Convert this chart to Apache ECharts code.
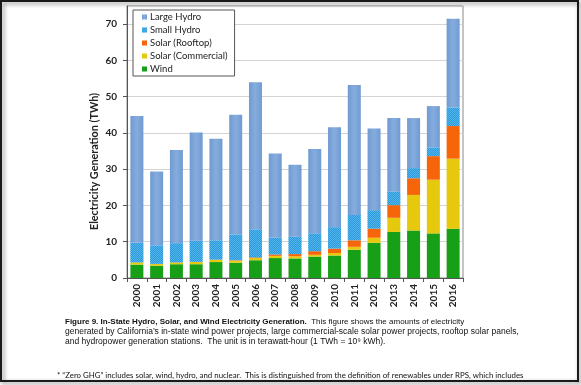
<!DOCTYPE html>
<html><head><meta charset="utf-8">
<script src="https://cdn.jsdelivr.net/npm/echarts@6/dist/echarts.min.js"></script>
<style>html,body{margin:0;padding:0;background:#fff}#c{width:581px;height:385px}</style>
</head><body><div id="c"></div>
<script>
const years = ['2000','2001','2002','2003','2004','2005','2006','2007','2008','2009','2010','2011','2012','2013','2014','2015','2016'];
const wind = [3.7,3.4,3.8,3.8,4.4,4.2,4.9,5.5,5.4,5.9,6.2,7.8,9.7,12.7,13.1,12.3,13.6];
const solarCommercial = [0.6,0.5,0.5,0.6,0.6,0.6,0.6,0.6,0.6,0.5,0.7,0.8,1.4,3.9,9.8,14.8,19.3];
const solarRooftop = [0,0,0,0.05,0.1,0.1,0.2,0.4,0.6,1.0,1.2,1.8,2.5,3.5,4.6,6.5,9.0];
const smallHydro = [5.4,5.1,5.3,5.85,5.3,7.1,7.7,4.6,4.8,4.9,5.9,7.0,5.1,3.7,2.8,2.4,5.1];
const largeHydro = [35.0,20.4,25.7,29.8,28.0,33.0,40.6,23.2,19.8,23.3,27.6,35.8,22.5,20.3,13.8,11.4,24.5];
const yTicks = [0,10,20,30,40,50,60,70];
const legendOrder = ['Large Hydro','Small Hydro','Solar (Rooftop)','Solar (Commercial)','Wind'];

const chart = echarts.init(document.getElementById('c'), null, {renderer:'canvas'});
const BW = 13;
function bar(name, data, itemStyle){
  return {name, type:'bar', stack:'t', data, barWidth:BW, itemStyle, emphasis:{disabled:true}};
}
const option = {
  animation:false,
  grid:{left:127, right:118, top:6, bottom:107, show:true, borderColor:'#8a8a8a', borderWidth:1, backgroundColor:'transparent'},
  legend:{
    data:legendOrder, orient:'vertical', left:133, top:10,
    itemWidth:5, itemHeight:5, itemGap:3, icon:'rect',
    padding:[2,7,2,9], borderColor:'#555', borderWidth:1, backgroundColor:'#fff',
    textStyle:{fontFamily:'Lato', fontSize:9.5, color:'#222', padding:[0,0,0,-2]}
  },
  xAxis:{
    type:'category', data:years,
    axisLine:{lineStyle:{color:'#555', width:1}},
    axisTick:{show:true, alignWithLabel:false, length:4, lineStyle:{color:'#555'}},
    axisLabel:{rotate:90, fontFamily:'Lato', fontWeight:'bold', fontSize:10, color:'#222', margin:6}
  },
  yAxis:{
    type:'value', min:0, max:75, interval:10,
    axisLine:{show:true, lineStyle:{color:'#555'}},
    axisTick:{show:true, length:4, lineStyle:{color:'#555'}},
    axisLabel:{showMaxLabel:false, fontFamily:'Lato', fontWeight:'bold', fontSize:10, color:'#222', margin:10},
    splitLine:{lineStyle:{color:'#d4d4d4'}}
  },
  series:[
    bar('Wind', wind, {color:'#17a017'}),
    bar('Solar (Commercial)', solarCommercial, {color:'#e6c80c'}),
    bar('Solar (Rooftop)', solarRooftop, {color:'#f7650a'}),
    bar('Small Hydro', smallHydro, {color:'#4ab8e8', decal:{symbol:'rect', symbolSize:1, color:'rgba(45,135,215,0.7)', dashArrayX:[[1,1],[0,1,1,0]], dashArrayY:[1,0]}}),
    bar('Large Hydro', largeHydro, {color:{type:'linear', x:0, y:0, x2:1, y2:0, colorStops:[{offset:0,color:'#6f9bd2'},{offset:0.5,color:'#86acdd'},{offset:1,color:'#6f9bd2'}]}})
  ],
  graphic:[
    {type:'text', x:94.5, y:161.5, rotation:Math.PI/2,
     style:{text:'Electricity Generation (TWh)', fontFamily:'Lato', fontWeight:'bold', fontSize:10.8, fill:'#222', align:'center', verticalAlign:'middle'}},
    {type:'text', x:65, y:317,
     style:{text:'{b|Figure 9. In-State Hydro, Solar, and Wind Electricity Generation.}{n1|  This figure shows the amounts of electricity}\n{n|generated by California\u2019s in-state wind power projects, large commercial-scale solar power projects, rooftop solar panels,}\n{n|and hydropower generation stations.  The unit is in terawatt-hour (1 TWh = 10\u2079 kWh).}',
       rich:{b:{fontFamily:'Liberation Sans', fontWeight:'bold', fontSize:8, fill:'#111', lineHeight:10},
             n1:{fontFamily:'Liberation Sans', fontSize:8, fill:'#111', lineHeight:10},
             n:{fontFamily:'Liberation Sans', fontSize:8.5, fill:'#111', lineHeight:10}},
       fontFamily:'Liberation Sans', fontSize:8.5, lineHeight:10, fill:'#111'}},
    {type:'text', x:57, y:371.5,
     style:{text:'* \u201cZero GHG\u201d includes solar, wind, hydro, and nuclear.  This is distinguished from the definition of renewables under RPS, which includes',
       fontFamily:'Lato', fontSize:7.85, fill:'#111'}},
    {type:'rect', shape:{x:1, y:1, width:577, height:380}, silent:true, z:100,
     style:{fill:'none', stroke:'#1a1a1a', lineWidth:2, shadowBlur:4, shadowColor:'rgba(0,0,0,0.5)', shadowOffsetX:2, shadowOffsetY:2}}
  ]
};
chart.setOption(option);
</script></body></html>
